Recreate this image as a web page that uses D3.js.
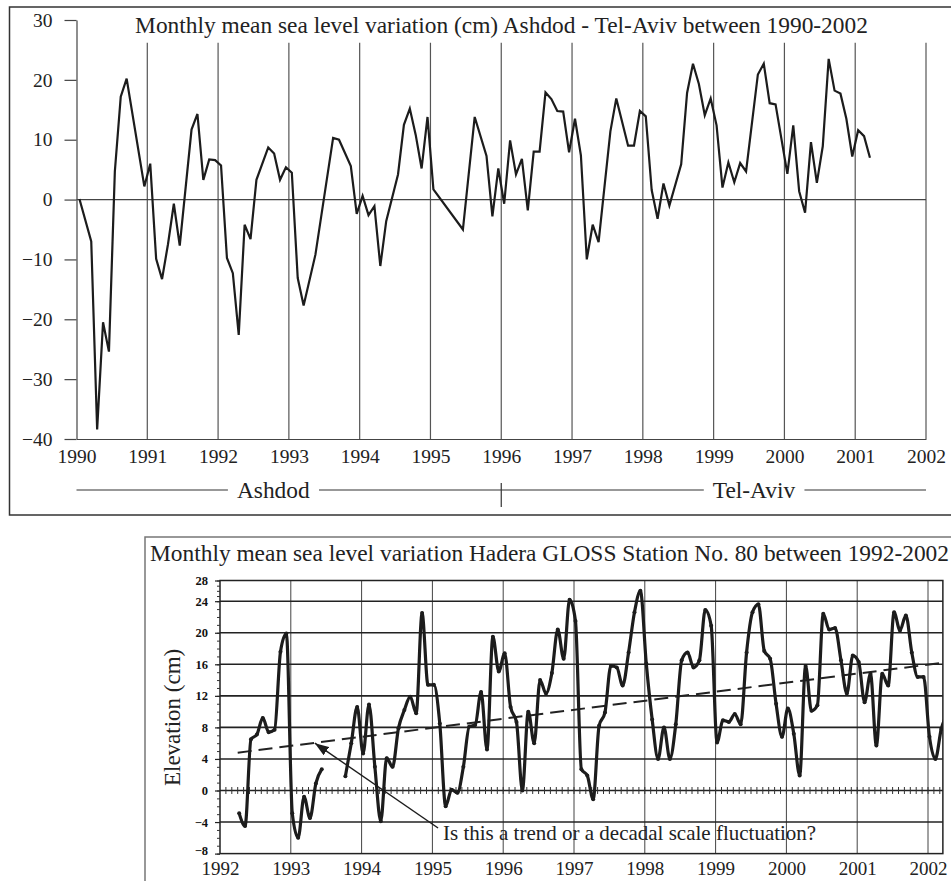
<!DOCTYPE html>
<html>
<head>
<meta charset="utf-8">
<script src="https://cdn.jsdelivr.net/npm/d3@7"></script>
<style>
  body { margin: 0; background: #fff; }
  svg { display: block; font-family: "Liberation Serif", "Times New Roman", serif; }
</style>
</head>
<body>
<div id="chart"></div>
<script>
// ---- data ----
// Ashdod / Tel-Aviv monthly mean sea level (cm), one row per year Jan..Dec, null = no value
const ashdodStartYear = 1990;
const ashdodLevels = [
  0.1, null, -7.0, -38.4, -20.5, -25.4, 4.7, 17.2, 20.2, null, null, 2.2,     // 1990
  6.0, -9.9, -13.3, -7.5, -0.7, -7.7, null, 11.7, 14.3, 3.3, 6.7, 6.6,        // 1991
  5.7, -9.75, -12.3, -22.6, -4.2, -6.6, 3.3, null, 8.7, 7.7, 3.3, 5.4,        // 1992
  4.5, -13.1, -17.7, null, -9.2, null, null, 10.3, 10.0, null, 5.6, -2.4,     // 1993
  0.6, -2.6, -1.1, -11.1, -3.6, null, 4.2, 12.5, 15.2, 10.8, 5.2, 13.8,       // 1994
  1.7, null, null, null, null, -5.0, null, 13.8, null, 7.3, -2.8, 5.2,        // 1995
  -0.7, 9.9, 4.2, 6.8, -1.8, 8.0, 8.0, 17.9, 16.8, 14.8, 14.7, 7.9,           // 1996
  13.5, 7.4, -10.0, -4.2, -7.1, null, 11.4, 16.9, null, 9.0, 9.0, 14.8,       // 1997
  13.9, 1.6, -3.2, 2.7, -1.0, null, 5.9, 17.8, 22.7, 19.3, 14.1, 16.9,        // 1998
  12.4, 2.0, 6.2, 2.9, 6.1, 4.7, null, 20.9, 22.7, 16.1, 15.9, null,          // 1999
  4.3, 12.4, 1.4, -2.2, 9.6, 2.8, 8.9, 23.5, 18.2, 17.7, 13.5, 7.2,           // 2000
  11.6, 10.6, 7.0                                                             // 2001
];
const ashdodYearTicks = [1990, 1991, 1992, 1993, 1994, 1995, 1996, 1997, 1998, 1999, 2000, 2001, 2002];
const ashdodLevelTicks = [30, 20, 10, 0, -10, -20, -30, -40];
const stationNames = ["Ashdod", "Tel-Aviv"];
const stationBreakYear = 1996;

// Hadera GLOSS station 80 monthly mean (cm), Jan..Dec rows, null = no value
const haderaStartYear = 1992;
const haderaLevels = [
  null, null, null, -2.9, -4.5, 6.5, 7.1, 9.2, 7.4, 7.7, 17.6, 19.9,         // 1992
  -2.9, -6.0, -0.8, -3.5, 0.9, 2.7, null, null, null, 1.8, 6.0, 10.6,         // 1993
  4.7, 10.9, 3.0, -3.9, 4.1, 3.0, 7.9, 10.2, 11.9, 9.8, 22.5, 13.4,           // 1994
  13.4, 8.5, -2.0, 0.1, -0.3, 3.0, 8.1, 8.3, 12.5, 5.2, 19.5, 15.1,           // 1995
  17.4, 10.6, 8.7, 0.0, 10.0, 6.0, 14.0, 12.3, 14.9, 20.4, 16.7, 24.3,        // 1996
  21.5, 2.7, 1.9, -1.1, 8.2, 9.9, 15.8, 15.6, 13.3, 17.5, 22.6, 26.0,         // 1997
  16.1, 9.0, 4.0, 8.0, 4.0, 8.4, 16.5, 17.5, 15.6, 16.5, 22.9, 20.9,          // 1998
  6.1, 8.9, 8.7, 9.7, 8.4, 17.5, 22.6, 23.6, 17.7, 16.7, 11.0, 6.8,           // 1999
  10.4, 7.2, 1.9, 15.8, 10.1, 10.8, 22.4, 20.4, 20.6, 16.5, 12.3, 17.1,       // 2000
  16.3, 11.2, 14.8, 5.7, 14.8, 13.3, 22.6, 20.3, 22.2, 17.5, 14.4, 14.4,      // 2001
  6.8, 4.0, 7.8, 9.7                                                          // 2002
];
const haderaYearTicks = [1992, 1993, 1994, 1995, 1996, 1997, 1998, 1999, 2000, 2001, 2002];
const haderaLevelTicks = [28, 24, 20, 16, 12, 8, 4, 0, -4, -8];
const trendYears = [1992.25, 2002.21];
const trendLevels = [4.8, 16.2];

const ink = "#1c1c1c";
const svg = d3.select("#chart").append("svg")
  .attr("width", 951)
  .attr("height", 881);

svg.append("defs").append("marker")
  .attr("id", "arrow")
  .attr("viewBox", "0 0 14 10")
  .attr("refX", 14)
  .attr("refY", 5)
  .attr("markerWidth", 14)
  .attr("markerHeight", 10)
  .attr("markerUnits", "userSpaceOnUse")
  .attr("orient", "auto")
  .append("path")
  .attr("d", "M0,0L14,5L0,10Z")
  .attr("fill", ink);

// ================= Upper chart: Ashdod - Tel-Aviv =================
const x1 = d3.scaleLinear().domain([1990, 2002]).range([76.5, 926]);
const y1 = d3.scaleLinear().domain([-40, 30]).range([439, 20]);
const upper = svg.append("g").attr("class", "ashdod");

upper.append("rect")
  .attr("x", 9.5).attr("y", 7)
  .attr("width", 990).attr("height", 508)
  .attr("fill", "none")
  .attr("stroke", "#333")
  .attr("stroke-width", 1.5);

upper.append("text")
  .attr("x", 501.5)
  .attr("y", 33)
  .attr("text-anchor", "middle")
  .attr("font-size", 23.4)
  .attr("fill", "#222")
  .text("Monthly mean sea level variation (cm) Ashdod - Tel-Aviv between 1990-2002");

// year gridlines
upper.selectAll(".vgrid")
  .data(ashdodYearTicks.slice(1))
  .join("line")
  .attr("class", "vgrid")
  .attr("x1", d => x1(d)).attr("x2", d => x1(d))
  .attr("y1", y1(26.2)).attr("y2", y1(-40))
  .attr("stroke", "#555")
  .attr("stroke-width", 1.2);

upper.append("line")
  .attr("x1", x1(1990)).attr("x2", x1(2002))
  .attr("y1", y1(0)).attr("y2", y1(0))
  .attr("stroke", "#444")
  .attr("stroke-width", 1.2);

upper.append("g")
  .attr("transform", `translate(${x1(1990)},0)`)
  .call(d3.axisLeft(y1).tickValues(ashdodLevelTicks).tickSize(12).tickSizeOuter(0).tickPadding(12))
  .attr("font-family", null)
  .attr("font-size", 19.5)
  .call(g => g.selectAll("line, path").attr("stroke", "#444").attr("stroke-width", 1.2))
  .call(g => g.selectAll("text").attr("fill", "#222"));

upper.append("g")
  .attr("transform", `translate(0,${y1(-40)})`)
  .call(d3.axisBottom(x1).tickValues(ashdodYearTicks).tickSize(0).tickPadding(10).tickFormat(d3.format("d")))
  .attr("font-family", null)
  .attr("font-size", 19.5)
  .call(g => g.select(".domain").attr("stroke", "#444").attr("stroke-width", 1.2))
  .call(g => g.selectAll("text").attr("fill", "#222"));

const ashdodPoints = ashdodLevels
  .map((v, i) => ({ t: ashdodStartYear + (i + 0.5) / 12, v: v }))
  .filter(d => d.v !== null);

upper.append("path")
  .datum(ashdodPoints)
  .attr("fill", "none")
  .attr("stroke", ink)
  .attr("stroke-width", 2.2)
  .attr("d", d3.line().x(d => x1(d.t)).y(d => y1(d.v)));

// station bar under the axis
const stationY = 490;
const station = upper.append("g").attr("class", "stations");
station.append("line")
  .attr("x1", x1(1990)).attr("x2", x1(2002))
  .attr("y1", stationY).attr("y2", stationY)
  .attr("stroke", "#333")
  .attr("stroke-width", 1.2);
station.append("line")
  .attr("x1", x1(stationBreakYear)).attr("x2", x1(stationBreakYear))
  .attr("y1", stationY - 7).attr("y2", stationY + 17)
  .attr("stroke", "#333")
  .attr("stroke-width", 1.2);

const labelYears = [1992.78, 1999.57];
stationNames.forEach((name, i) => {
  const lab = station.append("g");
  const txt = lab.append("text")
    .attr("x", x1(labelYears[i]))
    .attr("y", 498)
    .attr("text-anchor", "middle")
    .attr("font-size", 23.4)
    .attr("fill", "#222")
    .text(name);
  const bb = txt.node().getBBox();
  lab.insert("rect", "text")
    .attr("x", bb.x - 9).attr("y", stationY - 2)
    .attr("width", bb.width + 18).attr("height", 4)
    .attr("fill", "#fff");
});

// ================= Lower chart: Hadera =================
const x2 = d3.scaleLinear().domain([1992, 2002]).range([220, 928]);
const y2 = d3.scaleLinear().domain([-8, 24, 28]).range([853.6, 601.2, 580.5]);
const xEnd = 2002.21;
const lower = svg.append("g").attr("class", "hadera");

lower.append("rect")
  .attr("x", 145).attr("y", 537)
  .attr("width", 900).attr("height", 400)
  .attr("fill", "none")
  .attr("stroke", "#777")
  .attr("stroke-width", 1.5);

lower.append("text")
  .attr("x", 150)
  .attr("y", 561)
  .attr("font-size", 23.4)
  .attr("fill", "#222")
  .text("Monthly mean sea level variation Hadera GLOSS Station No. 80 between 1992-2002");

lower.append("clipPath")
  .attr("id", "frame")
  .append("rect")
  .attr("x", x2(1992)).attr("y", y2(28))
  .attr("width", x2(xEnd) - x2(1992))
  .attr("height", y2(-8) - y2(28));

lower.selectAll(".vgrid")
  .data(haderaYearTicks.slice(1))
  .join("line")
  .attr("class", "vgrid")
  .attr("x1", d => x2(d)).attr("x2", d => x2(d))
  .attr("y1", y2(28)).attr("y2", y2(-8))
  .attr("stroke", "#444")
  .attr("stroke-width", 1);

lower.selectAll(".hgrid")
  .data(haderaLevelTicks.filter(d => d !== 28 && d !== -8))
  .join("line")
  .attr("class", "hgrid")
  .attr("x1", x2(1992)).attr("x2", x2(xEnd))
  .attr("y1", d => y2(d)).attr("y2", d => y2(d))
  .attr("stroke", "#222")
  .attr("stroke-width", d => d === 0 ? 1.4 : 1.6);

// monthly ticks on the zero line
lower.selectAll(".mtick")
  .data(d3.range(1, Math.floor((xEnd - 1992) * 12) + 1))
  .join("line")
  .attr("class", "mtick")
  .attr("x1", d => x2(1992 + d / 12)).attr("x2", d => x2(1992 + d / 12))
  .attr("y1", y2(0) - 3.5).attr("y2", y2(0) + 3.5)
  .attr("stroke", "#333")
  .attr("stroke-width", 1);

lower.append("rect")
  .attr("x", x2(1992)).attr("y", y2(28))
  .attr("width", x2(xEnd) - x2(1992))
  .attr("height", y2(-8) - y2(28))
  .attr("fill", "none")
  .attr("stroke", "#222")
  .attr("stroke-width", 1.5);

// minor ticks on the left axis
lower.append("g")
  .attr("transform", `translate(${x2(1992)},0)`)
  .call(d3.axisLeft(y2).tickValues(d3.range(-8, 29)).tickSize(3).tickSizeOuter(0).tickFormat(""))
  .call(g => g.select(".domain").remove())
  .call(g => g.selectAll("line").attr("stroke", "#333"));

lower.append("g")
  .attr("transform", `translate(${x2(1992)},0)`)
  .call(d3.axisLeft(y2).tickValues(haderaLevelTicks).tickSize(5).tickSizeOuter(0).tickPadding(7))
  .attr("font-family", null)
  .attr("font-size", 12.5)
  .attr("font-weight", "bold")
  .call(g => g.select(".domain").remove())
  .call(g => g.selectAll("line").attr("stroke", "#222").attr("stroke-width", 1.2))
  .call(g => g.selectAll("text").attr("fill", "#111"))
  // lift the bottom label a little so it clears the year labels
  .call(g => g.selectAll(".tick").filter(d => d === -8).select("text").attr("dy", "0.05em"));

lower.append("g")
  .attr("transform", `translate(0,${y2(-8)})`)
  .call(d3.axisBottom(x2).tickValues(haderaYearTicks).tickSize(0).tickPadding(8).tickFormat(d3.format("d")))
  .attr("font-family", null)
  .attr("font-size", 19)
  .call(g => g.select(".domain").remove())
  .call(g => g.selectAll("text").attr("fill", "#222"));

lower.append("text")
  .attr("transform", `translate(172,${(y2(24) + y2(-8)) / 2 - 10}) rotate(-90)`)
  .attr("text-anchor", "middle")
  .attr("dominant-baseline", "central")
  .attr("font-size", 23)
  .attr("fill", "#222")
  .text("Elevation (cm)");

// dashed trend
const trendPoints = trendYears.map((t, i) => ({ t: t, v: trendLevels[i] }));
lower.append("path")
  .datum(trendPoints)
  .attr("fill", "none")
  .attr("stroke", "#222")
  .attr("stroke-width", 2)
  .attr("stroke-dasharray", "14,7")
  .attr("d", d3.line().x(d => x2(d.t)).y(d => y2(d.v)));

const haderaPoints = haderaLevels.map((v, i) => ({ t: haderaStartYear + (i + 0.25) / 12, v: v }));
const plot = lower.append("g").attr("clip-path", "url(#frame)");

plot.append("path")
  .datum(haderaPoints)
  .attr("fill", "none")
  .attr("stroke", ink)
  .attr("stroke-width", 3.2)
  .attr("stroke-linejoin", "round")
  .attr("d", d3.line()
    .defined(d => d.v !== null)
    .curve(d3.curveMonotoneX)
    .x(d => x2(d.t))
    .y(d => y2(d.v)));

plot.selectAll(".dot")
  .data(haderaPoints.filter(d => d.v !== null))
  .join("circle")
  .attr("class", "dot")
  .attr("cx", d => x2(d.t))
  .attr("cy", d => y2(d.v))
  .attr("r", 2)
  .attr("fill", ink);

// annotation
lower.append("line")
  .attr("x1", x2(1995.08)).attr("y1", y2(-4.75))
  .attr("x2", x2(1993.34)).attr("y2", y2(6.0))
  .attr("stroke", ink)
  .attr("stroke-width", 1.4)
  .attr("marker-end", "url(#arrow)");

lower.append("text")
  .attr("x", x2(1995.15))
  .attr("y", y2(-6.27))
  .attr("font-size", 21)
  .attr("fill", "#222")
  .text("Is this a trend or a decadal scale fluctuation?");
</script>
</body>
</html>
